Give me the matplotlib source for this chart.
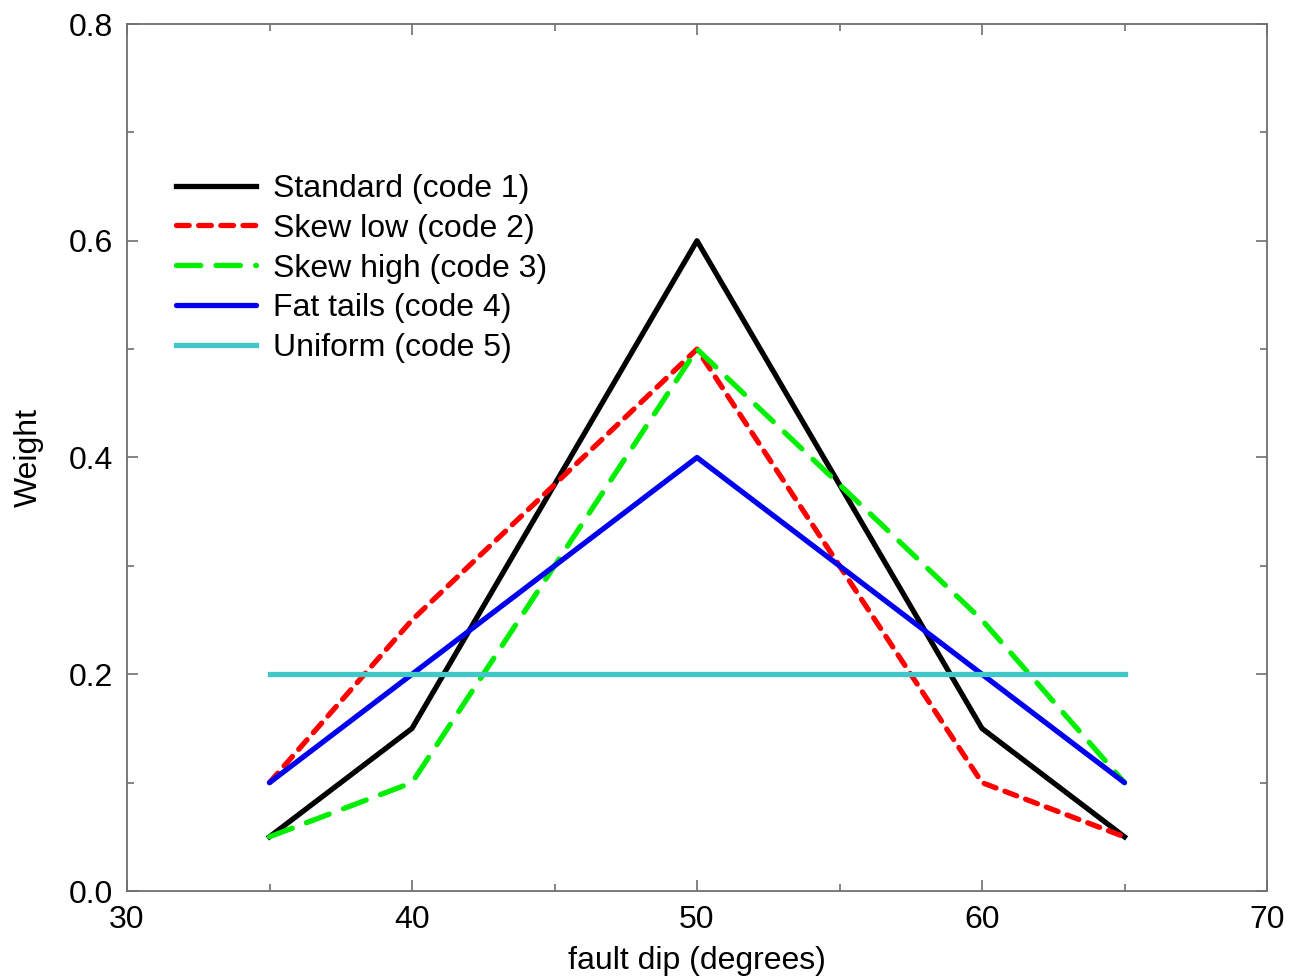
import matplotlib
matplotlib.use('Agg')
import matplotlib.pyplot as plt
from matplotlib.ticker import MultipleLocator

plt.rcParams['font.family'] = ['Liberation Sans', 'DejaVu Sans']

dip = [35, 40, 50, 60, 65]
standard = [0.05, 0.15, 0.6, 0.15, 0.05]
skew_low = [0.1, 0.25, 0.5, 0.1, 0.05]
skew_high = [0.05, 0.1, 0.5, 0.25, 0.1]
fat_tails = [0.1, 0.2, 0.4, 0.2, 0.1]
uniform = [0.2, 0.2, 0.2, 0.2, 0.2]

labels = ['Standard (code 1)', 'Skew low (code 2)', 'Skew high (code 3)',
          'Fat tails (code 4)', 'Uniform (code 5)']

fig = plt.figure(figsize=(12.89, 9.8), dpi=100)
ax = fig.add_axes([127/1289., 1-891/980., (1267-127)/1289., (891-24)/980.])

lw = 3.8
ax.plot(dip, standard, color='black', lw=lw, label=labels[0])
ax.plot(dip, skew_low, color='#ff0000', lw=lw, dashes=(2.4, 1.8),
        dash_capstyle='round', label=labels[1])
ax.plot(dip, skew_high, color='#00ee00', lw=lw, dashes=(4.6, 2.9),
        dash_capstyle='round', label=labels[2])
ax.plot(dip, fat_tails, color='#0000ee', lw=lw, solid_capstyle='round', label=labels[3])
ax.plot(dip, uniform, color='#40c8c8', lw=lw, label=labels[4])

ax.set_xlim(30, 70)
ax.set_ylim(0, 0.8)
ax.xaxis.set_major_locator(MultipleLocator(10))
ax.xaxis.set_minor_locator(MultipleLocator(5))
ax.yaxis.set_major_locator(MultipleLocator(0.2))
ax.yaxis.set_minor_locator(MultipleLocator(0.1))
ax.yaxis.set_major_formatter(plt.FormatStrFormatter('%.1f'))

for s in ax.spines.values():
    s.set_color('#707070')
    s.set_linewidth(1.3)
ax.tick_params(which='both', direction='in', top=True, right=True,
               colors='#707070', labelcolor='black', labelsize=23, width=1.2)
ax.tick_params(which='major', length=8, pad=10)
ax.tick_params(which='minor', length=5)

ax.set_xlabel('fault dip (degrees)', fontsize=23, labelpad=8)
ax.set_ylabel('Weight', fontsize=23, labelpad=18)

ax.legend(loc='upper left', bbox_to_anchor=(0.032, 0.842), frameon=False,
          fontsize=23, handlelength=2.5, handletextpad=0.53, labelspacing=0.31,
          borderaxespad=0)

fig.savefig('out.png', dpi=100)
